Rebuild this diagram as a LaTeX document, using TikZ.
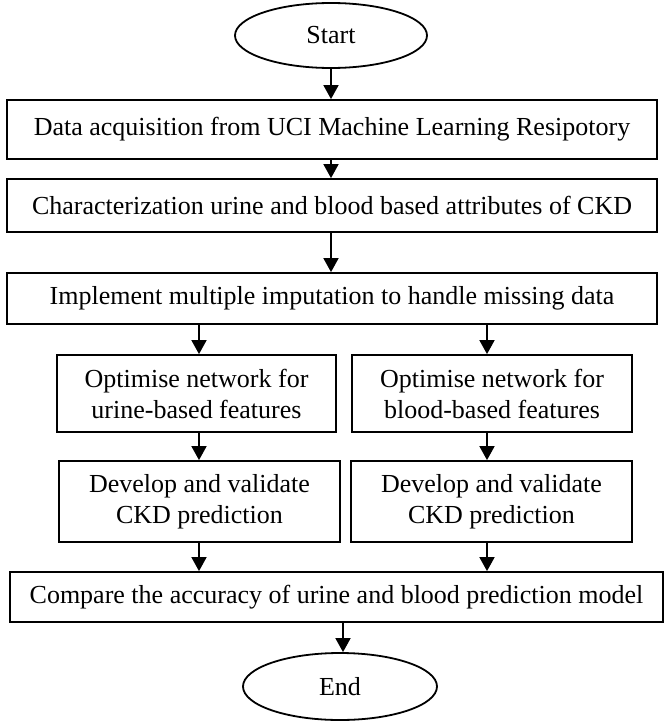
\documentclass[tikz,border=0pt]{standalone}
\usepackage{fontspec}
\setmainfont{Liberation Serif}
\usetikzlibrary{shapes.geometric,arrows.meta}
\begin{document}
\begin{tikzpicture}[x=1pt,y=-1pt,
  box/.style={draw,line width=1.8pt,inner sep=0pt,align=center,font=\fontsize{26}{31}\selectfont},
  term/.style={draw,ellipse,line width=1.8pt,inner sep=0pt,font=\fontsize{26}{31}\selectfont},
  arr/.style={line width=1.8pt,-{Triangle[width=15pt,length=14pt]}}]
\useasboundingbox (0,0) rectangle (665,723);
\node[term,minimum width=192pt,minimum height=65pt] (start) at (331,35.5) {Start};
\node[box,minimum width=650pt,minimum height=59pt] (b1) at (332,129.5) {Data acquisition from UCI Machine Learning Resipotory};
\node[box,minimum width=650pt,minimum height=53pt] (b2) at (332,205.5) {Characterization urine and blood based attributes of CKD};
\node[box,minimum width=650pt,minimum height=51pt] (b3) at (332,298.5) {Implement multiple imputation to handle missing data};
\node[box,minimum width=279pt,minimum height=77pt] (b4l) at (196.5,393.5) {Optimise network for\\urine-based features};
\node[box,minimum width=280pt,minimum height=77pt] (b4r) at (492,393.5) {Optimise network for\\blood-based features};
\node[box,minimum width=281pt,minimum height=81pt] (b5l) at (199.5,501.5) {Develop and validate\\CKD prediction};
\node[box,minimum width=281pt,minimum height=81pt] (b5r) at (491.5,501.5) {Develop and validate\\CKD prediction};
\node[box,minimum width=653pt,minimum height=50pt] (b6) at (336.5,597) {Compare the accuracy of urine and blood prediction model};
\node[term,minimum width=194pt,minimum height=67pt] (end) at (340,686.5) {End};
\coordinate (cM) at (331,0);
\coordinate (cL) at (199,0);
\coordinate (cR) at (487,0);
\coordinate (cE) at (343,0);
\draw[arr] (start.south -| cM) -- (b1.north -| cM);
\draw[arr] (b1.south -| cM) -- (b2.north -| cM);
\draw[arr] (b2.south -| cM) -- (b3.north -| cM);
\draw[arr] (b3.south -| cL) -- (b4l.north -| cL);
\draw[arr] (b3.south -| cR) -- (b4r.north -| cR);
\draw[arr] (b4l.south -| cL) -- (b5l.north -| cL);
\draw[arr] (b4r.south -| cR) -- (b5r.north -| cR);
\draw[arr] (b5l.south -| cL) -- (b6.north -| cL);
\draw[arr] (b5r.south -| cR) -- (b6.north -| cR);
\draw[arr] (b6.south -| cE) -- (end.north -| cE);
\end{tikzpicture}
\end{document}
